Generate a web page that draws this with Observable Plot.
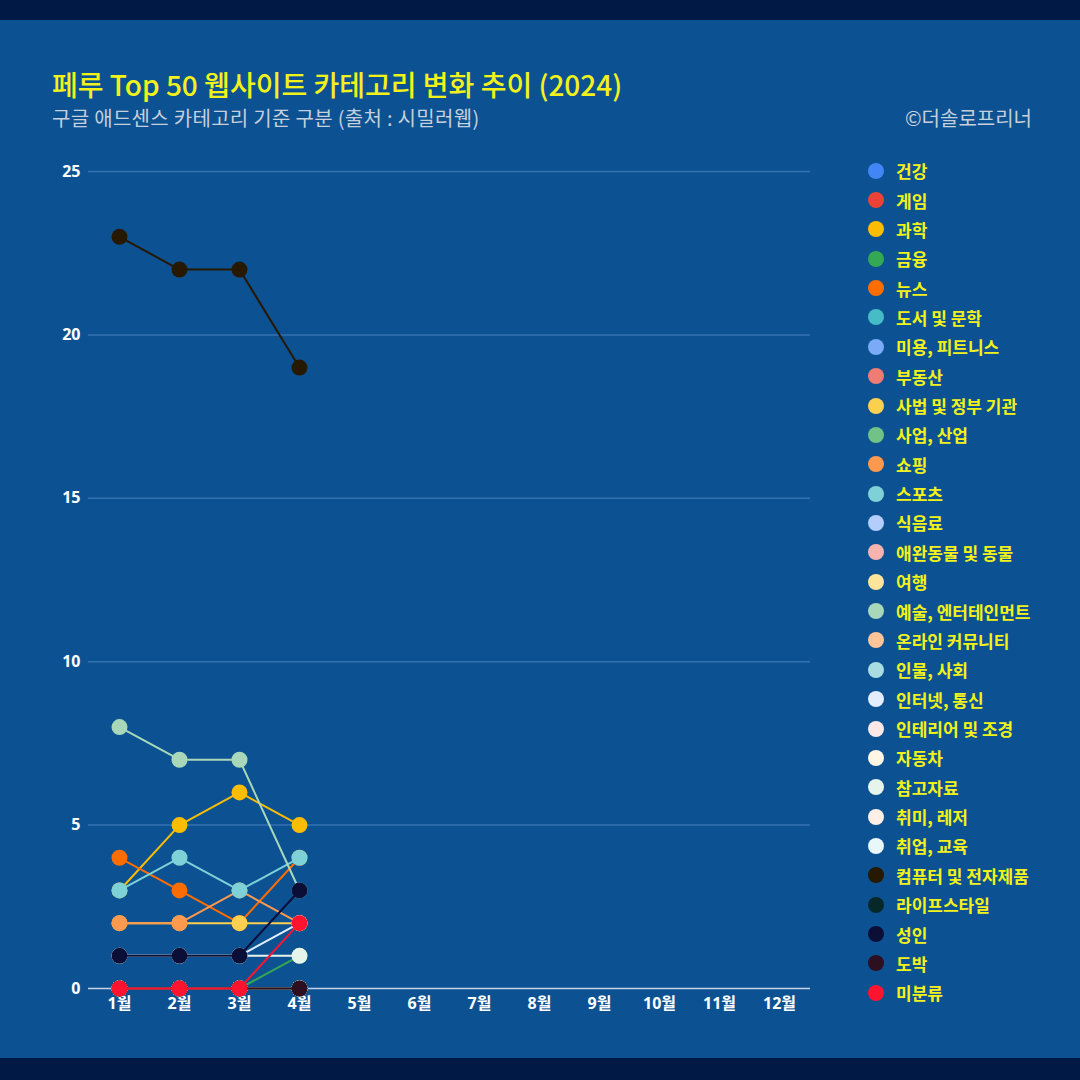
<!DOCTYPE html>
<html>
<head>
<meta charset="utf-8">
<script src="https://cdn.jsdelivr.net/npm/d3@7"></script>
<script src="https://cdn.jsdelivr.net/npm/@observablehq/plot@0.6"></script>
<style>
  html, body { margin: 0; padding: 0; }
  body { width: 1080px; height: 1080px; background: #0c5293; position: relative; overflow: hidden; font-family: "Noto Sans CJK KR", "Noto Sans", sans-serif; }
  .bar-top { position: absolute; left: 0; top: 0; width: 1080px; height: 20px; background: #001a45; }
  .bar-bottom { position: absolute; left: 0; top: 1058px; width: 1080px; height: 22px; background: #001a45; }
  .title { position: absolute; left: 52px; top: 64px; font-size: 28px; line-height: 40px; color: #f2f21a; font-weight: 500; white-space: nowrap; }
  .subtitle { position: absolute; left: 52px; top: 104px; font-size: 20px; line-height: 28px; color: #c6cfdb; white-space: nowrap; letter-spacing: 0.3px; }
  .credit { position: absolute; right: 48px; top: 104px; font-size: 20px; line-height: 28px; color: #c6cfdb; white-space: nowrap; }
  #chart { position: absolute; left: 0; top: 150px; }
  #legend { position: absolute; left: 868px; top: 156px; }
  .li { height: 29.36px; display: flex; align-items: center; }
  .sw { width: 16px; height: 16px; border-radius: 50%; margin-right: 12px; flex: none; }
  .lt { color: #f2f21a; font-size: 17px; font-weight: 700; white-space: nowrap; line-height: 1; }
</style>
</head>
<body>
<div class="bar-top"></div>
<div class="bar-bottom"></div>
<div class="title">페루 Top 50 웹사이트 카테고리 변화 추이 (2024)</div>
<div class="subtitle">구글 애드센스 카테고리 기준 구분 (출처 : 시밀러웹)</div>
<div class="credit">©더솔로프리너</div>
<div id="chart"></div>
<div id="legend"></div>
<script>
const months = ["1월","2월","3월","4월","5월","6월","7월","8월","9월","10월","11월","12월"];
const dataMonths = ["1월","2월","3월","4월"];
const yTicks = [0, 5, 10, 15, 20, 25];

const categories = [
  "건강","게임","과학","금융","뉴스","도서 및 문학","미용, 피트니스","부동산",
  "사법 및 정부 기관","사업, 산업","쇼핑","스포츠","식음료","애완동물 및 동물","여행",
  "예술, 엔터테인먼트","온라인 커뮤니티","인물, 사회","인터넷, 통신","인테리어 및 조경",
  "자동차","참고자료","취미, 레저","취업, 교육","컴퓨터 및 전자제품","라이프스타일",
  "성인","도박","미분류"
];
const colors = [
  "#4285f4","#ea4335","#fbbc04","#34a853","#ff6d01","#46bdc6","#7baaf7","#f07b72",
  "#fcd04f","#71c287","#ff994d","#7ed1d7","#b3cefb","#f7b4ae","#fde49b",
  "#a8d8b9","#ffc599","#a9dde2","#e3edfd","#fce8e6",
  "#fff6e3","#e6f4ec","#ffefe5","#e8f7f9","#271800","#062828",
  "#0b0f38","#2d0f1f","#ff1430"
];
// values for 1월..4월 per category (same order as categories)
const seriesValues = [
  [0,0,0,0],   // 건강
  [0,0,0,0],   // 게임
  [3,5,6,5],   // 과학
  [0,0,0,1],   // 금융
  [4,3,2,4],   // 뉴스
  [0,0,0,0],   // 도서 및 문학
  [0,0,0,0],   // 미용, 피트니스
  [0,0,0,0],   // 부동산
  [2,2,2,2],   // 사법 및 정부 기관
  [0,0,0,0],   // 사업, 산업
  [2,2,3,2],   // 쇼핑
  [3,4,3,4],   // 스포츠
  [0,0,0,0],   // 식음료
  [0,0,0,0],   // 애완동물 및 동물
  [0,0,0,0],   // 여행
  [8,7,7,3],   // 예술, 엔터테인먼트
  [0,0,0,0],   // 온라인 커뮤니티
  [0,0,0,0],   // 인물, 사회
  [1,1,1,2],   // 인터넷, 통신
  [0,0,0,0],   // 인테리어 및 조경
  [0,0,0,0],   // 자동차
  [1,1,1,1],   // 참고자료
  [0,0,0,0],   // 취미, 레저
  [0,0,0,0],   // 취업, 교육
  [23,22,22,19], // 컴퓨터 및 전자제품
  [0,0,0,0],   // 라이프스타일
  [1,1,1,3],   // 성인
  [0,0,0,0],   // 도박
  [0,0,0,2]    // 미분류
];

const table = [];
categories.forEach((c, i) => {
  seriesValues[i].forEach((v, j) => table.push({cat: c, idx: i, month: dataMonths[j], value: v}));
});

const seriesMarks = [];
categories.forEach((c, i) => {
  const rows = table.filter(d => d.idx === i);
  seriesMarks.push(Plot.line(rows, {x: "month", y: "value", stroke: colors[i], strokeWidth: 2}));
  seriesMarks.push(Plot.dot(rows, {x: "month", y: "value", fill: colors[i], r: 8, stroke: "none"}));
});

const chart = Plot.plot({
  width: 840,
  height: 870,
  marginLeft: 88,
  marginRight: 30,
  marginTop: 21,
  marginBottom: 32,
  style: {background: "transparent", color: "#ffffff", fontFamily: "'Noto Sans', 'Noto Sans CJK KR', sans-serif", overflow: "visible"},
  x: {type: "point", domain: months, padding: 0.5, label: null},
  y: {domain: [0, 25], label: null},
  marks: [
    Plot.ruleY(yTicks.filter(t => t > 0), {stroke: "#3472b0", strokeWidth: 1.5}),
    Plot.ruleY([0], {stroke: "#c5d3e4", strokeWidth: 1.5}),
    Plot.axisY({ticks: yTicks, tickSize: 0, tickPadding: 8, fontSize: 16, fontWeight: 700, fill: "#ffffff"}),
    Plot.axisX({tickSize: 0, tickPadding: 9, fontSize: 16, fontWeight: 700, fill: "#ffffff"}),
    ...seriesMarks
  ]
});
document.getElementById("chart").appendChild(chart);

const legend = document.getElementById("legend");
categories.forEach((c, i) => {
  const row = document.createElement("div");
  row.className = "li";
  const sw = document.createElement("span");
  sw.className = "sw";
  sw.style.background = colors[i];
  const t = document.createElement("span");
  t.className = "lt";
  t.textContent = c;
  row.appendChild(sw);
  row.appendChild(t);
  legend.appendChild(row);
});
</script>
</body>
</html>
